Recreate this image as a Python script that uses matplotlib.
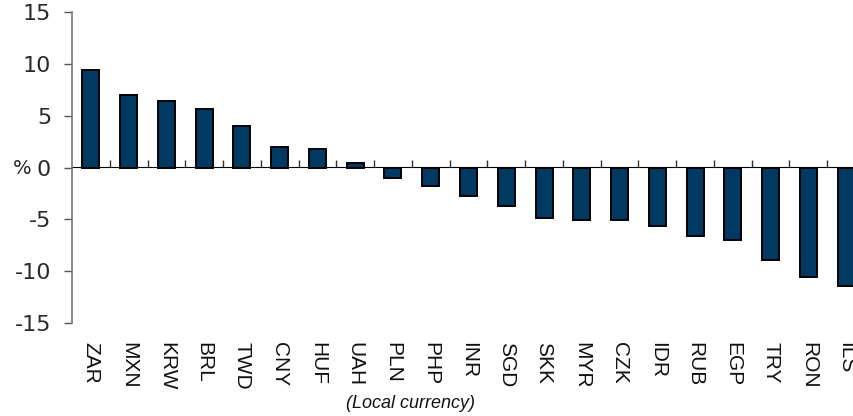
import matplotlib
matplotlib.use("Agg")
import matplotlib.pyplot as plt
import numpy as np

currencies = ["ZAR", "MXN", "KRW", "BRL", "TWD", "CNY", "HUF", "UAH", "PLN", "PHP",
              "INR", "SGD", "SKK", "MYR", "CZK", "IDR", "RUB", "EGP", "TRY", "RON", "ILS"]
values = [9.45, 6.95, 6.4, 5.6, 4.05, 2.0, 1.75, 0.4, -1.0, -1.75,
          -2.75, -3.7, -4.85, -5.05, -5.05, -5.65, -6.6, -6.95, -8.9, -10.6, -11.4]
yticks = [-15, -10, -5, 0, 5, 10, 15]
xlabel_text = "(Local currency)"
ylabel_text = "%"

bar_color = "#003a63"

fig = plt.figure(figsize=(8.54, 4.16), dpi=100)
ax = fig.add_axes([72/854, 1-323/416, 1-72/854, (323-12)/416])

x = np.arange(len(currencies))
ax.bar(x, values, width=0.45, color=bar_color, edgecolor="black", linewidth=1.4, zorder=3)

ax.set_ylim(-15, 15)
ax.set_xlim(-0.5, len(currencies) - 0.5 - 11/37.75)
ax.set_yticks(yticks)
ax.set_yticklabels([str(v) for v in yticks], fontsize=16, family="DejaVu Sans", color="#2a2a2a")
ax.tick_params(axis="y", direction="out", length=6, width=1, color="#555555", pad=9)

for s in ["top", "right", "bottom"]:
    ax.spines[s].set_visible(False)
ax.spines["left"].set_color("#777777")
ax.spines["left"].set_linewidth(1.2)

# category labels at bottom
ax.set_xticks(x)
ax.set_xticklabels(currencies, rotation=-90, fontsize=15, family="Liberation Sans",
                   color="#111111", va="top", ha="center")
ax.tick_params(axis="x", length=0, pad=14)

# zero axis line with boundary ticks
zero_ax = ax.secondary_xaxis(0.5)
zero_ax.set_xticks(x[:-1] + 0.5)
zero_ax.set_xticklabels([])
zero_ax.tick_params(direction="out", length=5, width=1, color="#333333")
zero_ax.spines["bottom"].set_color("#444444")
zero_ax.spines["bottom"].set_linewidth(1.2)
zero_ax.spines["bottom"].set_zorder(4)

fig.text(22/854, 1-168/416, ylabel_text, fontsize=14, family="DejaVu Sans",
         ha="center", va="center", color="#222222")
fig.text(411/854, 1-404/416, xlabel_text, fontsize=13, family="Liberation Sans",
         style="italic", ha="center", va="center", color="#111111")

fig.savefig("out.png", dpi=100)
